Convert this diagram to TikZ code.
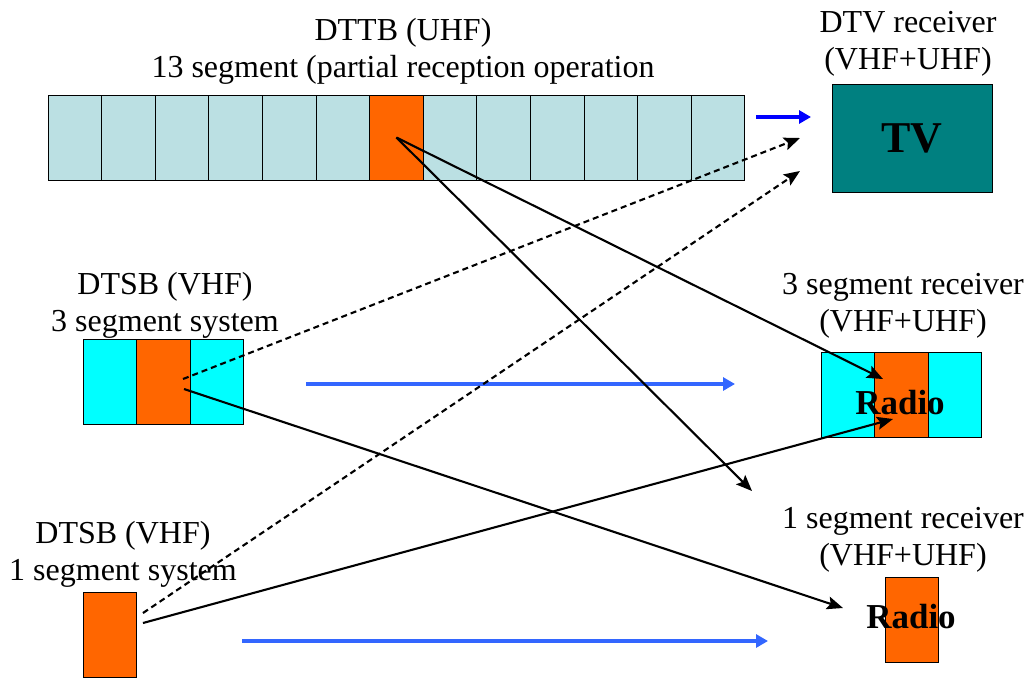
\documentclass[tikz,border=0pt]{standalone}
\usepackage{fontspec}
\setmainfont{Liberation Serif}
\usetikzlibrary{positioning,arrows.meta}

\definecolor{segblue}{RGB}{187,224,227}
\definecolor{segcyan}{RGB}{0,255,255}
\definecolor{segorange}{RGB}{255,102,0}
\definecolor{tvteal}{RGB}{0,128,128}
\definecolor{flowblue}{RGB}{51,102,255}
\definecolor{pureblue}{RGB}{0,0,255}

\begin{document}
\begin{tikzpicture}[x=1pt, y=-1pt, node distance=53.6pt, on grid,
	seg/.style={draw, black, line width=0.8pt, minimum width=53.6pt, minimum height=85pt, inner sep=0pt, outer sep=0pt},
	lbl/.style={align=center, inner sep=0pt, font=\fontsize{32}{37}\selectfont},
	big/.style={inner sep=0pt, font=\fontsize{35}{40}\selectfont\bfseries},
	feed/.style={-{Stealth[length=16pt, width=13pt, inset=3pt]}, line width=2.1pt},
	spare/.style={feed, dash pattern=on 6pt off 4pt},
	flow/.style={-{Triangle[length=12pt, width=13pt]}, line width=4pt}]
	\useasboundingbox (0,0) rectangle (1036,678);

	% 13 segment band
	\foreach \c [count=\i] in {segblue,segblue,segblue,segblue,segblue,segblue,segorange,segblue,segblue,segblue,segblue,segblue,segblue}
		\node[seg, fill=\c] (s\i) at ({74.8+53.6*(\i-1)},137.5) {};
	\node[lbl] (ttl) at (403,51) {DTTB (UHF)\\13 segment (partial reception operation};

	% receivers
	\node[draw, fill=tvteal, line width=0.8pt, minimum width=160pt, minimum height=108pt, font=\fontsize{44}{50}\selectfont\bfseries] (tv) at (912,138) {TV};
	\node[lbl] (tvl) at (908,44) {DTV receiver\\(VHF+UHF)};

	\node[seg, fill=segcyan] (ra) at (847.8,394.5) {};
	\node[seg, fill=segorange] (rb) [right=of ra] {};
	\node[seg, fill=segcyan] (rc) [right=of rb] {};
	\node[big] (rx3) at (900,403) {Radio};
	\node[lbl] (rx3l) at (903,306) {3 segment receiver\\(VHF+UHF)};

	\node[seg, fill=segorange] (ub) at (912,620) {};
	\node[big] (rx1) at (911,617) {Radio};
	\node[lbl] (rx1l) at (903,540) {1 segment receiver\\(VHF+UHF)};

	% VHF systems
	\node[seg, fill=segcyan] (sa) at (109.8,381.5) {};
	\node[seg, fill=segorange] (sb) [right=of sa] {};
	\node[seg, fill=segcyan] (sc) [right=of sb] {};
	\node[lbl] (sys3l) at (165,305) {DTSB (VHF)\\3 segment system};

	\node[seg, fill=segorange] (ua) at (110,634.5) {};
	\node[lbl] (sys1l) at (123,554) {DTSB (VHF)\\1 segment system};

	% arrow ends
	\coordinate (bandout) at (756,117);
	\coordinate (tvin) at (811,117);
	\coordinate (tvd1) at (800,138);
	\coordinate (tvd2) at (800,171);
	\coordinate (sysout3) at (306,384);
	\coordinate (rxin3) at (735,384);
	\coordinate (sysout1) at (242,641);
	\coordinate (rxin1) at (768,641);
	\coordinate (sbd) at (183,379);
	\coordinate (sbs) at (184,389);
	\coordinate (uad) at (143,613);
	\coordinate (uas) at (143,623);
	\coordinate (rbt) at (883,379);
	\coordinate (rbb) at (893,419);
	\coordinate (ubt) at (843,608);
	\coordinate (onet) at (752,491);

	\path (bandout) edge[flow, pureblue] (tvin);
	\path (sysout3) edge[flow, flowblue] (rxin3);
	\path (sysout1) edge[flow, flowblue] (rxin1);

	\path (sbd) edge[spare] (tvd1);
	\path (uad) edge[spare] (tvd2);

	\path (s7.center) edge[feed] (rbt);
	\path (s7.center) edge[feed] (onet);
	\path (sbs) edge[feed] (ubt);
	\path (uas) edge[feed] (rbb);
\end{tikzpicture}
\end{document}
